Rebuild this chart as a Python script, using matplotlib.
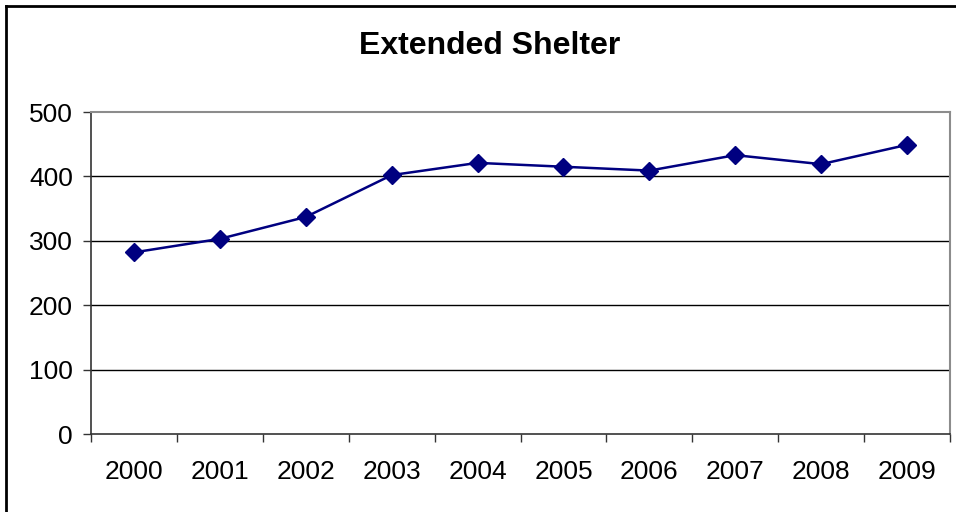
import matplotlib
matplotlib.use("Agg")
import matplotlib.pyplot as plt
from matplotlib.lines import Line2D

years = ["2000", "2001", "2002", "2003", "2004", "2005", "2006", "2007", "2008", "2009"]
shelter = [282, 303, 337, 402, 421, 415, 409, 433, 419, 449]
y_ticks = [0, 100, 200, 300, 400, 500]

plt.rcParams['font.family'] = ['Liberation Sans', 'DejaVu Sans']

W, H = 956, 512
fig = plt.figure(figsize=(W / 100, H / 100), dpi=100)
fig.patch.set_facecolor("white")

left, right, top, bottom = 91, 950, 112, 434
ax = fig.add_axes([left / W, 1 - bottom / H, (right - left) / W, (bottom - top) / H])

x = list(range(len(years)))
ax.plot(x, shelter, color="#000080", lw=1.8, marker="D", markersize=9,
        markerfacecolor="#000080", markeredgecolor="#000080", zorder=3)

ax.set_xlim(-0.5, len(years) - 0.5)
ax.set_ylim(0, 500)

ax.set_yticks(y_ticks)
ax.set_yticklabels([str(v) for v in y_ticks], fontsize=19)
ax.tick_params(axis="y", direction="out", length=6, width=1, color="#333333", pad=7)

ax.set_xticks(x)
ax.set_xticklabels(years, fontsize=19)
ax.set_xticks([i - 0.5 for i in range(len(years) + 1)], minor=True)
ax.tick_params(axis="x", which="major", length=0, pad=19)
ax.tick_params(axis="x", which="minor", direction="out", length=6, width=1, color="#333333")

for v in y_ticks[1:-1]:
    ax.axhline(v, color="black", lw=1, zorder=1)

for side in ("top", "right"):
    ax.spines[side].set_color("#8c8c8c")
    ax.spines[side].set_linewidth(1.5)
for side in ("left", "bottom"):
    ax.spines[side].set_color("#333333")
    ax.spines[side].set_linewidth(1.2)

fig.text(490 / W, 1 - 46 / H, "Extended Shelter", ha="center", va="center",
         fontsize=23, fontweight="bold")

# chart frame (top and left edges)
fig.add_artist(Line2D([6 / W, 1.0], [1 - 6 / H, 1 - 6 / H], color="black", lw=2,
                      transform=fig.transFigure))
fig.add_artist(Line2D([6 / W, 6 / W], [0, 1 - 6 / H], color="black", lw=2,
                      transform=fig.transFigure))

fig.savefig("out.png", dpi=100)
